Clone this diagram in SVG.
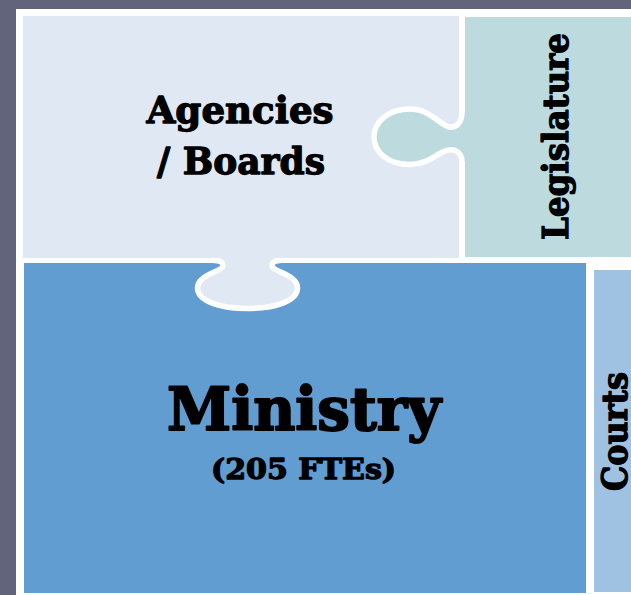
<svg xmlns="http://www.w3.org/2000/svg" width="631" height="595" viewBox="0 0 631 595">
  <style>
    .lbl{font-family:"DejaVu Serif","Liberation Serif",serif;font-weight:bold;fill:#000;stroke:#000;stroke-width:1.3;stroke-linejoin:round}
    .big{stroke-width:2}
    .edge{fill:none;stroke:#ffffff;stroke-width:5.5;stroke-linejoin:round;stroke-linecap:butt}
  </style>
  <rect x="0" y="0" width="631" height="595" fill="#62647c"/>
  <rect x="16" y="9" width="615" height="586" fill="#ffffff"/>

  <g id="ministry">
    <rect x="24" y="263" width="562" height="330" fill="#629dd1"/>
    <text class="lbl big" x="304" y="430" font-size="59" text-anchor="middle" textLength="274" lengthAdjust="spacingAndGlyphs">Ministry</text>
    <text class="lbl" x="303.5" y="478.5" font-size="28" text-anchor="middle" textLength="185" lengthAdjust="spacingAndGlyphs">(205 FTEs)</text>
  </g>

  <g id="courts">
    <rect x="594" y="270" width="37" height="322" fill="#a0c2e2"/>
    <text class="lbl" transform="translate(627,491) rotate(-90)" x="0" y="0" font-size="36" textLength="119" lengthAdjust="spacingAndGlyphs">Courts</text>
  </g>

  <g id="agencies">
    <rect x="23" y="16" width="436" height="242" fill="#e0e9f3"/>
    <path d="M 214,260.5 C 221,260.5 224,263 222.5,267 C 220,272 197.5,275 197.5,288 C 197.5,301 220,308.5 247.5,308.5 C 275,308.5 297.5,301 297.5,288 C 297.5,275 275,272 272.5,267 C 271,263 274,260.5 281,260.5 L 281,252 L 214,252 Z" fill="#e0e9f3"/>
    <path class="edge" d="M 214,260.5 C 221,260.5 224,263 222.5,267 C 220,272 197.5,275 197.5,288 C 197.5,301 220,308.5 247.5,308.5 C 275,308.5 297.5,301 297.5,288 C 297.5,275 275,272 272.5,267 C 271,263 274,260.5 281,260.5"/>
    <text class="lbl" x="240" y="123" font-size="37" text-anchor="middle" textLength="187" lengthAdjust="spacingAndGlyphs">Agencies</text>
    <text class="lbl" x="241" y="174" font-size="37" text-anchor="middle" textLength="168" lengthAdjust="spacingAndGlyphs">/ Boards</text>
  </g>

  <g id="legislature">
    <rect x="465" y="17" width="166" height="240" fill="#bddbdf"/>
    <path d="M 462,112 C 462,122 457,128 449,127 C 440,125 430,109 410,109 C 388,109 374,122 374,137 C 374,152 388,164.5 410,164.5 C 430,164.5 440,150 449,150 C 457,149 462,154 462,162 L 470,162 L 470,112 Z" fill="#bddbdf"/>
    <path class="edge" d="M 462,112 C 462,122 457,128 449,127 C 440,125 430,109 410,109 C 388,109 374,122 374,137 C 374,152 388,164.5 410,164.5 C 430,164.5 440,150 449,150 C 457,149 462,154 462,162"/>
    <text class="lbl" transform="translate(568,240) rotate(-90)" x="0" y="0" font-size="36" textLength="207" lengthAdjust="spacingAndGlyphs">Legislature</text>
  </g>
</svg>
